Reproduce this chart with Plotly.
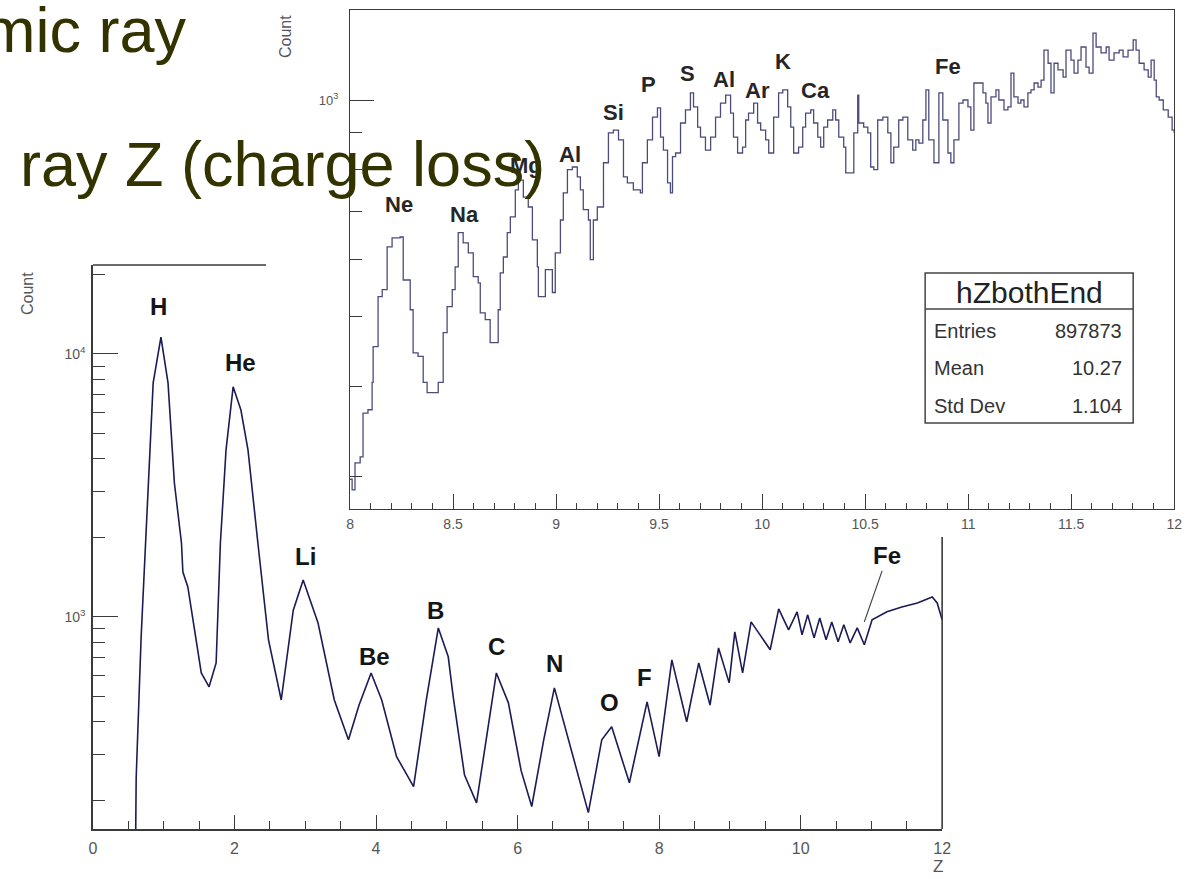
import math
import plotly.graph_objects as go

# ---------------- data ----------------
# Main histogram: reconstructed charge Z, full range
main_z = [0.60, 0.61, 0.68, 0.78, 0.85, 0.96, 1.06, 1.15, 1.25, 1.27,
          1.34, 1.53, 1.64, 1.74, 1.80, 1.88, 1.98, 2.09, 2.19, 2.33,
          2.48, 2.66, 2.83, 2.97, 3.18, 3.41, 3.61, 3.76, 3.93, 4.08,
          4.29, 4.53, 4.71, 4.88, 5.02, 5.09, 5.25, 5.42, 5.56, 5.70, 5.87,
          6.05, 6.20, 6.37, 6.52, 6.76, 7.00, 7.19, 7.33, 7.58, 7.83, 8.00, 8.18, 8.39,
          8.56, 8.72, 8.84, 8.99, 9.07, 9.18, 9.30, 9.57, 9.69, 9.83,
          9.95, 10.02, 10.10, 10.19, 10.27, 10.36, 10.44, 10.53, 10.61, 10.70,
          10.80, 10.90, 11.01, 11.22, 11.43, 11.65, 11.86, 11.93, 12.00]
main_count = [120, 244, 839, 3230, 7760, 11600, 7760, 3230, 1910, 1480,
              1300, 612, 542, 668, 1910, 4320, 7500, 6120, 4320, 1910,
              818, 483, 1060, 1380, 948, 483, 341, 462, 612, 483,
              294, 226, 483, 908, 705, 497, 250, 196, 341, 612, 471,
              260, 190, 341, 537, 312, 180, 341, 382, 234, 475, 294, 686, 399,
              668, 462, 762, 561, 877, 612, 957, 750, 1073, 893,
              1045, 855, 1018, 832, 991, 818, 957, 804, 933, 796,
              908, 783, 975, 1045, 1091, 1130, 1191, 1130, 975]

# Inset histogram (hZbothEnd), Z from 8 to 12
inset_z = [8.000, 8.010, 8.024, 8.049, 8.063, 8.087, 8.107, 8.112, 8.136, 8.156,
           8.180, 8.204, 8.243, 8.258, 8.292, 8.306, 8.330, 8.355, 8.374, 8.428,
           8.452, 8.471, 8.496, 8.510, 8.525, 8.549, 8.574, 8.598, 8.622, 8.632,
           8.656, 8.680, 8.719, 8.729, 8.744, 8.763, 8.778, 8.802, 8.817, 8.841,
           8.865, 8.885, 8.909, 8.914, 8.948, 8.982, 8.996, 9.021, 9.035, 9.055,
           9.079, 9.103, 9.118, 9.132, 9.157, 9.166, 9.181, 9.200, 9.230, 9.254,
           9.278, 9.303, 9.327, 9.346, 9.375, 9.409, 9.419, 9.443, 9.468, 9.492,
           9.507, 9.521, 9.541, 9.555, 9.565, 9.580, 9.604, 9.628, 9.652, 9.667,
           9.687, 9.701, 9.725, 9.750, 9.774, 9.798, 9.823, 9.847, 9.861, 9.881,
           9.905, 9.920, 9.934, 9.959, 9.978, 9.993, 10.017, 10.032, 10.056, 10.080,
           10.100, 10.124, 10.139, 10.153, 10.177, 10.197, 10.211, 10.236, 10.250, 10.270,
           10.284, 10.299, 10.318, 10.343, 10.357, 10.372, 10.396, 10.406, 10.430, 10.445,
           10.464, 10.469, 10.493, 10.513, 10.527, 10.542, 10.561, 10.586, 10.610, 10.625,
           10.639, 10.663, 10.683, 10.707, 10.731, 10.746, 10.761, 10.780, 10.795, 10.809,
           10.834, 10.858, 10.877, 10.902, 10.916, 10.931, 10.955, 10.975, 10.999, 11.013,
           11.028, 11.052, 11.072, 11.086, 11.096, 11.111, 11.135, 11.149, 11.174, 11.193,
           11.208, 11.222, 11.242, 11.256, 11.271, 11.290, 11.305, 11.320, 11.339, 11.354,
           11.368, 11.388, 11.402, 11.417, 11.436, 11.461, 11.475, 11.499, 11.514, 11.533,
           11.548, 11.572, 11.587, 11.606, 11.621, 11.645, 11.670, 11.684, 11.708, 11.733,
           11.752, 11.776, 11.801, 11.815, 11.830, 11.854, 11.874, 11.888, 11.903, 11.913,
           11.927, 11.947, 11.971, 11.990, 12.000]
inset_count = [297, 287, 313, 319, 367, 371, 405, 454, 533, 545,
               625, 643, 645, 562, 511, 445, 440, 405, 392, 405,
               475, 516, 545, 586, 654, 633, 613, 568, 557, 506,
               495, 460, 511, 575, 605, 654, 688, 750, 774, 733,
               710, 639, 586, 533, 581, 540, 613, 681, 743, 800,
               807, 782, 750, 704, 681, 600, 681, 710, 818, 900,
               908, 880, 782, 767, 750, 743, 818, 880, 947, 975,
               888, 852, 767, 743, 834, 844, 929, 969, 1023, 978,
               917, 888, 852, 888, 947, 990, 1016, 959, 888, 844,
               860, 938, 959, 990, 929, 908, 880, 844, 947, 1023,
               1033, 978, 917, 844, 860, 917, 959, 969, 929, 888,
               860, 917, 938, 969, 938, 888, 860, 792, 792, 900,
               1016, 929, 917, 900, 807, 800, 938, 947, 900, 818,
               860, 938, 947, 880, 852, 880, 871, 938, 1033, 880,
               818, 1023, 938, 844, 818, 880, 990, 1000, 978, 908,
               1056, 1056, 1023, 990, 929, 1010, 1033, 1000, 969, 978,
               1090, 1010, 990, 1000, 978, 1023, 1033, 1056, 1042, 1066,
               1173, 1125, 1023, 1125, 1101, 1076, 1173, 1136, 1090, 1136,
               1185, 1111, 1090, 1239, 1185, 1163, 1185, 1136, 1163, 1173,
               1148, 1173, 1212, 1173, 1125, 1101, 1076, 1136, 1066, 1010,
               1000, 969, 947, 908, 900]

# Element labels
main_labels = ["H", "He", "Li", "Be", "B", "C", "N", "O", "F"]
main_label_z = [0.93, 2.09, 3.00, 3.98, 4.84, 5.70, 6.52, 7.30, 7.80]
main_label_count = [15100, 9250, 1700, 705, 1060, 770, 662, 471, 587]
main_fe_z, main_fe_count = 10.90, 957

inset_labels = ["Ne", "Na", "Mg", "Al", "Si", "P", "S", "Al", "Ar", "K", "Ca", "Fe"]
inset_label_z = [8.238, 8.554, 8.855, 9.069, 9.278, 9.448, 9.638, 9.813, 9.978, 10.100, 10.260, 10.902]
inset_label_count = [715, 694, 812, 839, 962, 1052, 1090, 1069, 1032, 1133, 1032, 1115]

main_xticks = [0, 2, 4, 6, 8, 10, 12]
main_xminor = [0.5, 1, 1.5, 2.5, 3, 3.5, 4.5, 5, 5.5, 6.5, 7, 7.5, 8.5, 9, 9.5, 10.5, 11, 11.5]
main_yticks = [1000, 10000]
main_yticktext = ["10<sup>3</sup>", "10<sup>4</sup>"]
main_yminor = [200, 300, 400, 500, 600, 700, 800, 900,
               2000, 3000, 4000, 5000, 6000, 7000, 8000, 9000, 20000]

inset_xticks = [8, 8.5, 9, 9.5, 10, 10.5, 11, 11.5, 12]
inset_xticktext = ["8", "8.5", "9", "9.5", "10", "10.5", "11", "11.5", "12"]
inset_xminor = [round(8 + 0.1 * i, 1) for i in range(1, 40) if i % 5 != 0]
inset_yticks = [1000]
inset_yticktext = ["10<sup>3</sup>"]
inset_yminor = [300, 400, 500, 600, 700, 800, 900]

stats_title = "hZbothEnd"
stats_names = ["Entries", "Mean", "Std Dev"]
stats_values = ["897873", "10.27", "1.104"]

slide_line1 = "mic ray"
slide_line2 = "ray Z (charge loss)"

# ---------------- figure ----------------
W, H = 1188, 879
FONT = "Liberation Sans, Arial, sans-serif"
AX = "#3a3a3a"
TXT = "#555555"

# horizontal correction measured on the rendered page
XS, XO = 0.9889, 3.0


def px(x):
    return ((x - XO) / XS) / W


def py(y):
    return 1 - y / H


fig = go.Figure()
fig.add_trace(go.Scatter(x=main_z, y=main_count, mode="lines",
                         line=dict(color="#1b1b55", width=1.6),
                         xaxis="x", yaxis="y", hoverinfo="skip"))
fig.add_trace(go.Scatter(x=inset_z, y=inset_count, mode="lines",
                         line=dict(color="#4b4b7c", width=1.3, shape="hv"),
                         xaxis="x2", yaxis="y2", hoverinfo="skip"))

common = dict(showgrid=False, zeroline=False, showline=True, linecolor=AX,
              ticks="inside", tickcolor=AX)

fig.update_layout(
    width=W, height=H, autosize=False,
    margin=dict(l=0, r=0, t=0, b=0),
    paper_bgcolor="white", plot_bgcolor="rgba(0,0,0,0)",
    showlegend=False,
    font=dict(family=FONT),
    xaxis=dict(domain=[px(92), px(941)], range=[0, 12], anchor="y",
               linewidth=1.6, tickvals=main_xticks, ticklen=14, tickwidth=1.3,
               minor=dict(tickmode="array", tickvals=main_xminor, ticks="inside",
                          ticklen=8, tickcolor=AX, tickwidth=1.1),
               tickfont=dict(size=16, color=TXT, family=FONT),
               ticklabelstandoff=4, **common),
    yaxis=dict(domain=[py(829), py(265)], type="log",
               range=[math.log10(156), math.log10(21800)], anchor="x",
               linewidth=1.6, tickvals=main_yticks, ticktext=main_yticktext,
               ticklen=25, tickwidth=1.3,
               minor=dict(tickmode="array", tickvals=main_yminor, ticks="inside",
                          ticklen=12, tickcolor=AX, tickwidth=1.1),
               tickfont=dict(size=14, color=TXT, family=FONT),
               ticklabelstandoff=3, **common),
    xaxis2=dict(domain=[px(349), px(1173)], range=[8, 12], anchor="y2",
                linewidth=1.4, mirror=True, tickvals=inset_xticks,
                ticktext=inset_xticktext, ticklen=15, tickwidth=1.2,
                minor=dict(tickmode="array", tickvals=inset_xminor, ticks="inside",
                           ticklen=6, tickcolor=AX, tickwidth=1),
                tickfont=dict(size=14, color=TXT, family=FONT),
                ticklabelstandoff=2, **common),
    yaxis2=dict(domain=[py(509), py(10)], type="log",
                range=[math.log10(270), math.log10(1334)], anchor="x2",
                linewidth=1.4, mirror=True, tickvals=inset_yticks,
                ticktext=inset_yticktext, ticklen=24, tickwidth=1.2,
                minor=dict(tickmode="array", tickvals=inset_yminor, ticks="inside",
                           ticklen=12, tickcolor=AX, tickwidth=1),
                tickfont=dict(size=13, color=TXT, family=FONT),
                ticklabelstandoff=8, **common),
)

shapes = [
    # partial top and right frame of the main pad (rest hidden by inset picture)
    dict(type="line", xref="x domain", yref="y domain", x0=0, x1=(265 - 92) / 849,
         y0=1, y1=1, line=dict(color=AX, width=1.6)),
    dict(type="line", xref="x domain", yref="y domain", x0=1, x1=1,
         y0=0, y1=(829 - 537) / 564, line=dict(color=AX, width=1.6)),
    # stats box
    dict(type="rect", xref="paper", yref="paper", x0=px(924), x1=px(1132),
         y0=py(423), y1=py(273), line=dict(color="#444444", width=1.5),
         fillcolor="white", layer="above"),
    dict(type="line", xref="paper", yref="paper", x0=px(924), x1=px(1132),
         y0=py(309), y1=py(309), line=dict(color="#444444", width=1.3)),
]

ann = []
label_font_main = dict(family=FONT, size=24, color="#151515")
label_font_inset = dict(family=FONT, size=22, color="#262626")
for t, z, c in zip(main_labels, main_label_z, main_label_count):
    ann.append(dict(text="<b>%s</b>" % t, x=z, y=math.log10(c), xref="x", yref="y",
                    xanchor="center", yanchor="middle",
                    showarrow=False, font=label_font_main))
ann.append(dict(text="<b>Fe</b>", x=main_fe_z, y=math.log10(main_fe_count), xref="x", yref="y",
                showarrow=True, arrowhead=0, arrowwidth=1.2, arrowcolor="#444",
                ax=23, ay=-66, font=label_font_main))
for t, z, c in zip(inset_labels, inset_label_z, inset_label_count):
    ann.append(dict(text="<b>%s</b>" % t, x=z, y=math.log10(c), xref="x2", yref="y2",
                    xanchor="center", yanchor="middle",
                    showarrow=False, font=label_font_inset))


def paper_text(text, x, y, size, color, xanchor="center", angle=0):
    return dict(text=text, x=px(x), y=py(y), xref="paper", yref="paper",
                xanchor=xanchor, yanchor="middle", showarrow=False,
                textangle=angle, font=dict(family=FONT, size=size, color=color))


# axis titles
ann.append(paper_text("Count", 26, 294, 16, TXT, angle=-90))
ann.append(paper_text("Count", 284, 37, 16, TXT, angle=-90))
ann.append(paper_text("Z", 937, 866, 17, TXT))

# stats box text
ann.append(paper_text(stats_title, 1028, 292, 30, "#222"))
for n, v, yy in zip(stats_names, stats_values, [331, 368, 406]):
    ann.append(paper_text(n, 931, yy, 20, "#333", xanchor="left"))
    ann.append(paper_text(v, 1123, yy, 20, "#333", xanchor="right"))

# slide text (on top of everything)
ann.append(paper_text(slide_line1, 187, 30, 63, "#333300", xanchor="right"))
ann.append(paper_text(slide_line2, 17, 164, 63, "#333300", xanchor="left"))

fig.update_layout(shapes=shapes, annotations=ann)
fig.write_html(
    "out.html",
    config={"displayModeBar": False, "responsive": False},
    post_script=("document.body.style.margin='0px';"
                 "document.body.style.overflow='hidden';"
                 "document.documentElement.style.overflow='hidden';"),
)
